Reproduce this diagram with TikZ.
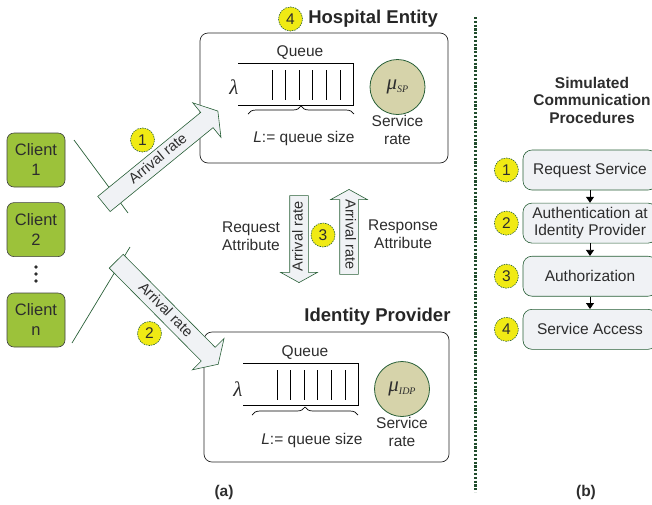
\documentclass[tikz,border=0pt]{standalone}
\usepackage{fontspec}
\setmainfont{Liberation Sans}
\newfontfamily\serifgreek{Liberation Serif}
\usetikzlibrary{shapes.arrows, arrows.meta, positioning, decorations.pathreplacing}

\definecolor{darkgreen}{RGB}{40,95,55}
\definecolor{clientgreen}{RGB}{156,194,58}
\definecolor{badgeyellow}{RGB}{240,234,20}
\definecolor{arrowgray}{RGB}{240,242,245}
\definecolor{servicekhaki}{RGB}{214,211,170}
\definecolor{textgray}{RGB}{45,45,45}

\begin{document}
\begin{tikzpicture}[
    x=1pt, y=-1pt,
    every node/.style={text=textgray, font=\fontsize{15.5}{18}\selectfont},
    client/.style={rectangle, draw=black!75, fill=clientgreen, rounded corners=7pt, minimum width=58pt, minimum height=54pt, align=center, font=\fontsize{16.5}{20}\selectfont, line width=0.6pt},
    entity/.style={rectangle, draw=black!85, rounded corners=8pt, line width=0.7pt},
    title/.style={font=\fontsize{18.5}{20}\selectfont\bfseries, text=black!85},
    badge/.style={circle, draw=darkgreen, fill=badgeyellow, dash pattern=on 1.5pt off 1pt, minimum size=24pt, inner sep=0pt, line width=0.6pt},
    flow/.style={single arrow, draw=darkgreen, fill=arrowgray, line width=0.6pt, single arrow head extend=12.5pt, single arrow head indent=0pt, single arrow tip angle=115, text height=10pt, text depth=3pt, inner ysep=3pt, inner xsep=2pt, font=\fontsize{14.5}{16}\selectfont},
    flowv/.style={flow, single arrow head extend=9pt, single arrow tip angle=122, inner ysep=2.5pt},
    queue/.style={draw=black, line width=0.7pt},
    service/.style={circle, draw=darkgreen, fill=servicekhaki, minimum size=55pt, inner sep=0pt, line width=0.8pt},
    procbox/.style={rectangle, draw=darkgreen, fill=arrowgray, rounded corners=9pt, minimum width=134pt, minimum height=40pt, align=center, line width=0.6pt},
    line/.style={draw=darkgreen, line width=0.7pt},
    next/.style={draw=black, -{Triangle[length=6pt,width=8pt]}, line width=0.8pt}
]
    \useasboundingbox (0,0) rectangle (652,504);

    % Clients
    \node[client] (client1) at (36,160) {Client\\1};
    \node[client, below=15pt of client1] (client2) {Client\\2};
    \node[client] (clientn) at (36,320) {Client\\n};
    \foreach \y in {267,274,281}
        \fill[textgray] (36,\y) circle (1.9pt);

    % Lines from the clients
    \coordinate (upperA) at (74,140);
    \coordinate (upperB) at (128,213);
    \coordinate (lowerA) at (72,343);
    \coordinate (lowerB) at (130,247);
    \path[line] (upperA) -- (upperB);
    \path[line] (lowerA) -- (lowerB);

    % Hospital entity
    \node[entity, minimum width=248pt, minimum height=130pt] (hospital) at (324,98) {};
    \node[badge] (badge4) at (290.5,19) {4};
    \node[title, right=2pt of badge4] (hosptitle) {Hospital Entity};
    \begin{scope}[shift={(238,63)}]
        \draw[queue] (0,0) -- (115,0) -- (115,42) -- (0,42);
        \foreach \i in {0,...,5}
            \draw[queue] (34+13.6*\i,7) -- ++(0,30);
        \node (queuesp) at (62,-10) {Queue};
        \node (lambdasp) at (-4,24) {\fontsize{21}{21}\selectfont\serifgreek\itshape λ};
        \draw[queue, decorate, decoration={brace, amplitude=8pt, mirror}] (116,51) -- (10,51);
        \node (sizesp) at (66,75) {\textit{L}:= queue size};
    \end{scope}
    \node[service] (musp) at (397.5,87) {\serifgreek\itshape\fontsize{21}{21}\selectfont μ\raisebox{-3pt}{\fontsize{10}{10}\selectfont SP}};
    \node[below=0pt of musp, align=center, inner sep=0pt] (ratesp) {Service\\rate};

    % Identity provider
    \node[entity, minimum width=245pt, minimum height=130pt] (idp) at (326.5,397) {};
    \node[title, anchor=east] (idptitle) at (454,317) {Identity Provider};
    \begin{scope}[shift={(243,363)}]
        \draw[queue] (0,0) -- (115,0) -- (115,42) -- (0,42);
        \foreach \i in {0,...,5}
            \draw[queue] (34+13.6*\i,7) -- ++(0,30);
        \node (queueidp) at (62,-10) {Queue};
        \node (lambdaidp) at (-5,26) {\fontsize{21}{21}\selectfont\serifgreek\itshape λ};
        \draw[queue, decorate, decoration={brace, amplitude=8pt, mirror}] (115,52) -- (9,52);
        \node (sizeidp) at (69,77) {\textit{L}:= queue size};
    \end{scope}
    \node[service] (muidp) at (402,389) {\serifgreek\itshape\fontsize{21}{21}\selectfont μ\raisebox{-3pt}{\fontsize{10}{10}\selectfont IDP}};
    \node[below=0pt of muidp, align=center, inner sep=0pt] (rateidp) {Service\\rate};

    % Arrival arrows
    \node[flow, minimum height=147pt, rotate=39.2] (arrive1) at (158.5,159.5) {Arrival rate};
    \node[flow, minimum height=145pt, rotate=-45.3] (arrive2) at (165,310.5) {Arrival rate};
    \node[badge] (badge1) at (142.5,140) {1};
    \node[badge] (badge2) at (149.5,333.5) {2};

    % Attribute exchange
    \node[flowv, minimum height=87pt, rotate=90, shape border rotate=180] (request) at (299,236.5) {Arrival rate};
    \node[flowv, minimum height=85pt, rotate=-90, shape border rotate=180] (response) at (349,234.5) {Arrival rate};
    \node[badge] (badge3) at (323,235) {3};
    \node[align=center, left=6pt of request.north] (reqtext) {Request\\Attribute};
    \node[align=center, right=6pt of response.north] (resptext) {Response\\Attribute};

    % Separator
    \draw[darkgreen!80!black, line width=2.2pt, dash pattern=on 2.2pt off 1.6pt] (475.5,17) -- (475.5,492);

    % Procedures
    \node[align=center, font=\fontsize{15.5}{17.5}\selectfont\bfseries] (proctitle) at (592,100) {Simulated\\Communication\\Procedures};
    \node[procbox] (proc1) at (590,170) {Request Service};
    \node[procbox, below=12.5pt of proc1, font=\fontsize{15.5}{17.5}\selectfont] (proc2) {Authentication at\\Identity Provider};
    \node[procbox, below=12.5pt of proc2] (proc3) {Authorization};
    \node[procbox, below=12.5pt of proc3] (proc4) {Service Access};
    \node[badge, left=4pt of proc1] (step1) {1};
    \node[badge, left=4pt of proc2] (step2) {2};
    \node[badge, left=4pt of proc3] (step3) {3};
    \node[badge, left=4pt of proc4] (step4) {4};
    \path[next] (proc1) -- (proc2);
    \path[next] (proc2) -- (proc3);
    \path[next] (proc3) -- (proc4);

    % Captions
    \node[font=\fontsize{15.5}{18}\selectfont\bfseries] (capa) at (224,492) {(a)};
    \node[font=\fontsize{15.5}{18}\selectfont\bfseries] (capb) at (586,492) {(b)};
\end{tikzpicture}
\end{document}
